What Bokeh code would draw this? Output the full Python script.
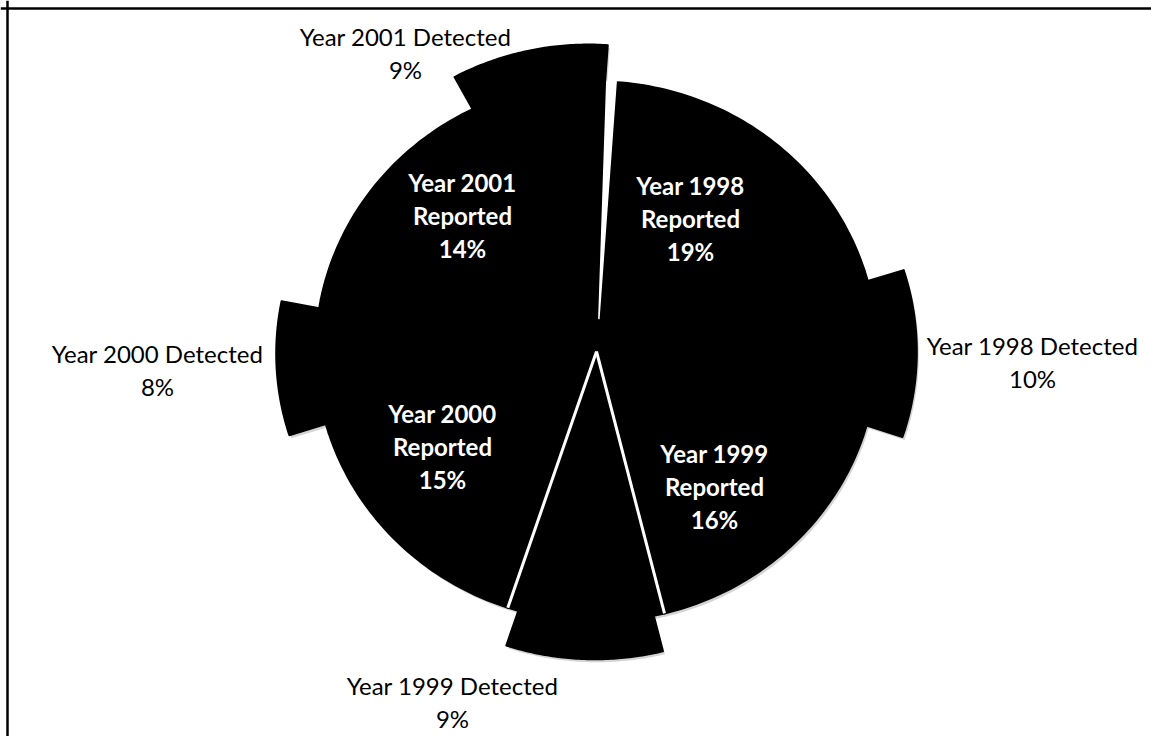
import math
from bokeh.plotting import figure
from bokeh.models import Range1d, Span
from bokeh.embed import file_html
from bokeh.resources import INLINE
from bokeh.core.properties import value

# ---------------- data ----------------
years = ["1998", "1999", "2000", "2001"]
reported_pct = [19, 16, 15, 14]
detected_pct = [10, 9, 8, 9]

# ---------------- layout / style ----------------
W, H = 1151, 736
CX, CY = 596, 351          # pie centre (pixels)
RX, RY = 281, 270          # pie radii (scan is slightly stretched)
START_DEG = 4.0            # first slice starts just right of 12 o'clock
EXPLODE = 0.14             # explosion of the "Detected" slices
FONT = "Lato"
FS = "24px"
LINE_GAP = 33

# slices clockwise: Reported, Detected for each year
slice_names, slice_vals, slice_kind = [], [], []
for y, r, d in zip(years, reported_pct, detected_pct):
    slice_names += [f"Year {y} Reported", f"Year {y} Detected"]
    slice_vals += [r, d]
    slice_kind += ["R", "D"]

total = float(sum(slice_vals))


def unit(theta):
    t = math.radians(theta)
    return (math.sin(t), math.cos(t))


def scr(p, dx=0.0, dy=0.0):
    return (CX + RX * p[0] + dx, CY - RY * p[1] + dy)


def arc(a, b, r=1.0, off=(0.0, 0.0), n=60):
    pts = []
    for i in range(n + 1):
        t = a + (b - a) * i / n
        u = unit(t)
        pts.append((off[0] + r * u[0], off[1] + r * u[1]))
    return pts


polys = []
angles = []
acc = START_DEG
for v, k in zip(slice_vals, slice_kind):
    a = acc
    b = acc + 360.0 * v / total
    acc = b
    angles.append((a, b))
    if k == "R":
        pts = [(0.0, 0.0)] + arc(a, b) + [(0.0, 0.0)]
    else:
        m = (a + b) / 2
        um = unit(m)
        T = (EXPLODE * um[0], EXPLODE * um[1])
        tt = T[0] ** 2 + T[1] ** 2

        def hit(theta):
            u = unit(theta)
            tu = T[0] * u[0] + T[1] * u[1]
            s = -tu + math.sqrt(tu * tu - tt + 1.0)
            return (T[0] + s * u[0], T[1] + s * u[1])

        ua, ub = unit(a), unit(b)
        pts = ([(0.0, 0.0), ua, hit(a)] + arc(a, b, 1.0, T)
               + [hit(b), ub, (0.0, 0.0)])
    polys.append(pts)

xs, ys, sxs, sys_ = [], [], [], []
for pts in polys:
    sp = [scr(p) for p in pts]
    xs.append([q[0] for q in sp])
    ys.append([q[1] for q in sp])
    sh = [scr(p, 2, 3) for p in pts]
    sxs.append([q[0] for q in sh])
    sys_.append([q[1] for q in sh])

p = figure(width=W, height=H, output_backend="svg", toolbar_location=None,
           x_range=Range1d(0, W), y_range=Range1d(H, 0),
           x_axis_type=None, y_axis_type=None, min_border=0)
p.outline_line_color = None
p.background_fill_color = "white"
p.border_fill_color = "white"

# soft shadow
p.patches(sxs, sys_, fill_color="#a0a0a0", fill_alpha=0.45, line_color=None)
# slices
p.patches(xs, ys, fill_color="black", line_color="black", line_width=2,
          line_join="round")

# white separators: both edges of the 1999 Detected slice, and the gap at the top
sep_x, sep_y = [], []
ia, ib = angles[3]
for th in (ia, ib):
    c0 = scr((0.0, 0.0))
    c1 = scr(unit(th))
    sep_x.append([c0[0], c1[0]])
    sep_y.append([c0[1], c1[1]])
p.multi_line(sep_x, sep_y, line_color="white", line_width=3)

g0 = angles[0][0]
gap = [scr((0.12 * unit(g0)[0], 0.12 * unit(g0)[1])), scr(unit(g0 - 1.9)),
       scr((1.02 * unit(g0)[0], 1.02 * unit(g0)[1]))]
p.patch([q[0] for q in gap], [q[1] for q in gap], fill_color="white",
        line_color="white", line_width=1.5)

# frame border
p.add_layout(Span(location=7, dimension="height", line_color="black", line_width=2.5))
p.add_layout(Span(location=8, dimension="width", line_color="black", line_width=2.5))

# ---------------- labels ----------------
# label centres (layout only)
label_pos = {
    "Year 1998 Reported": (690, 218),
    "Year 1998 Detected": (1032, 361),
    "Year 1999 Reported": (714, 486),
    "Year 1999 Detected": (452, 701),
    "Year 2000 Reported": (442, 446),
    "Year 2000 Detected": (157, 369),
    "Year 2001 Reported": (462, 215),
    "Year 2001 Detected": (405, 52),
}

in_x, in_y, in_t = [], [], []
out_x, out_y, out_t = [], [], []
for name, v, k in zip(slice_names, slice_vals, slice_kind):
    cx, cy = label_pos[name]
    if k == "R":
        yr, kind = name.rsplit(" ", 1)
        lines = [yr, kind, f"{v}%"]
        tx, ty, tt = in_x, in_y, in_t
    else:
        lines = [name, f"{v}%"]
        tx, ty, tt = out_x, out_y, out_t
    n = len(lines)
    for i, ln in enumerate(lines):
        tx.append(cx)
        ty.append(cy + (i - (n - 1) / 2) * LINE_GAP)
        tt.append(ln)

p.text(in_x, in_y, text=in_t, text_font=value(FONT), text_font_size=value(FS),
       text_font_style="bold", text_color="white", text_align="center",
       text_baseline="middle")
p.text(out_x, out_y, text=out_t, text_font=value(FONT), text_font_size=value(FS),
       text_color="black", text_align="center", text_baseline="middle")

open("out.html", "w").write(file_html(p, INLINE))
